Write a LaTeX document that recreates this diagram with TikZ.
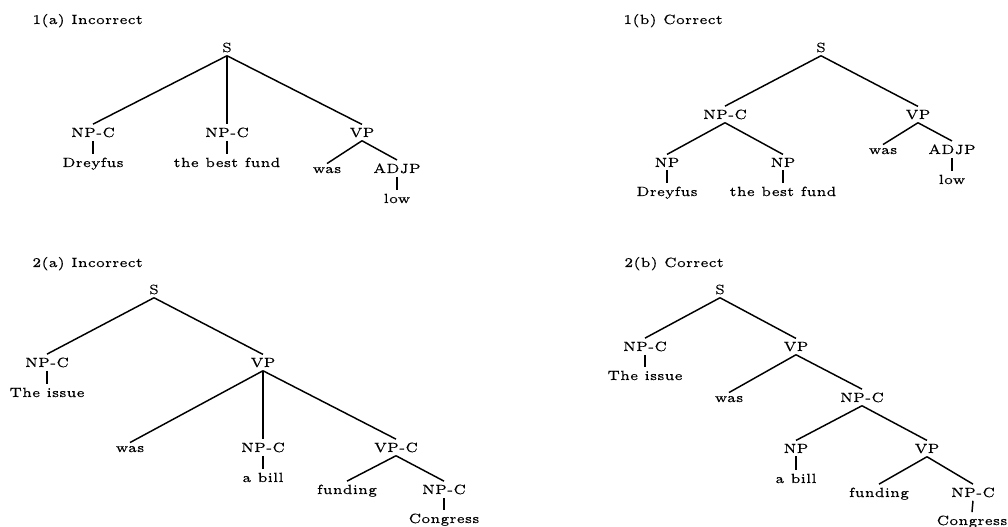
\documentclass[tikz,border=0pt]{standalone}
\usepackage{fontspec}
\newfontfamily\treefont{lmroman5-regular.otf}[FakeBold=0.4]
\begin{document}
\begin{tikzpicture}[x=0.75pt,y=-0.75pt,
  lbl/.style={font=\treefont\fontsize{10}{12}\selectfont, inner sep=2.4pt, anchor=base},
  ttl/.style={font=\treefont\fontsize{10}{12}\selectfont, inner sep=0pt, anchor=base west},
  br/.style={line width=1.1pt}]
\useasboundingbox (0,0) rectangle (1008,527);

% ---------- 1(a) ----------
\node[ttl] (t1a) at (32,24) {1(a) Incorrect};
\node[lbl] (a1S)   at (227,52)  {S};
\node[lbl] (a1N1)  at (93,137)  {NP-C};
\node[lbl] (a1N2)  at (227,137) {NP-C};
\node[lbl] (a1VP)  at (362,137) {VP};
\node[lbl] (a1w1)  at (93,167)  {Dreyfus};
\node[lbl] (a1w2)  at (227,167) {the best fund};
\node[lbl] (a1was) at (327,173) {was};
\node[lbl] (a1AJ)  at (397,173) {ADJP};
\node[lbl] (a1low) at (397,203) {low};
\draw[br] (a1S.south) -- (a1N1.north);
\draw[br] (a1S.south) -- (a1N2.north);
\draw[br] (a1S.south) -- (a1VP.north);
\draw[br] (a1N1.south) -- (a1w1.north);
\draw[br] (a1N2.south) -- (a1w2.north);
\draw[br] (a1VP.south) -- (a1was.north);
\draw[br] (a1VP.south) -- (a1AJ.north);
\draw[br] (a1AJ.south) -- (a1low.north);

% ---------- 1(b) ----------
\node[ttl] (t1b) at (623,24) {1(b) Correct};
\node[lbl] (b1S)   at (821,52)  {S};
\node[lbl] (b1NC)  at (725,119) {NP-C};
\node[lbl] (b1VP)  at (918,119) {VP};
\node[lbl] (b1N1)  at (667,167) {NP};
\node[lbl] (b1N2)  at (783,167) {NP};
\node[lbl] (b1w1)  at (667,196) {Dreyfus};
\node[lbl] (b1w2)  at (783,196) {the best fund};
\node[lbl] (b1was) at (883,154) {was};
\node[lbl] (b1AJ)  at (952,154) {ADJP};
\node[lbl] (b1low) at (952,184) {low};
\draw[br] (b1S.south) -- (b1NC.north);
\draw[br] (b1S.south) -- (b1VP.north);
\draw[br] (b1NC.south) -- (b1N1.north);
\draw[br] (b1NC.south) -- (b1N2.north);
\draw[br] (b1N1.south) -- (b1w1.north);
\draw[br] (b1N2.south) -- (b1w2.north);
\draw[br] (b1VP.south) -- (b1was.north);
\draw[br] (b1VP.south) -- (b1AJ.north);
\draw[br] (b1AJ.south) -- (b1low.north);

% ---------- 2(a) ----------
\node[ttl] (t2a) at (32,267) {2(a) Incorrect};
\node[lbl] (a2S)   at (154,294) {S};
\node[lbl] (a2NC)  at (47,367)  {NP-C};
\node[lbl] (a2VP)  at (263,367) {VP};
\node[lbl] (a2iss) at (47,397)  {The issue};
\node[lbl] (a2was) at (130,452) {was};
\node[lbl] (a2N2)  at (263,452) {NP-C};
\node[lbl] (a2VC)  at (396,452) {VP-C};
\node[lbl] (a2bil) at (263,482) {a bill};
\node[lbl] (a2fun) at (347,494) {funding};
\node[lbl] (a2N3)  at (444,494) {NP-C};
\node[lbl] (a2con) at (444,523) {Congress};
\draw[br] (a2S.south) -- (a2NC.north);
\draw[br] (a2S.south) -- (a2VP.north);
\draw[br] (a2NC.south) -- (a2iss.north);
\draw[br] (a2VP.south) -- (a2was.north);
\draw[br] (a2VP.south) -- (a2N2.north);
\draw[br] (a2VP.south) -- (a2VC.north);
\draw[br] (a2N2.south) -- (a2bil.north);
\draw[br] (a2VC.south) -- (a2fun.north);
\draw[br] (a2VC.south) -- (a2N3.north);
\draw[br] (a2N3.south) -- (a2con.north);

% ---------- 2(b) ----------
\node[ttl] (t2b) at (624,267) {2(b) Correct};
\node[lbl] (b2S)   at (720,294) {S};
\node[lbl] (b2NC)  at (645,351) {NP-C};
\node[lbl] (b2VP)  at (796,351) {VP};
\node[lbl] (b2iss) at (645,380) {The issue};
\node[lbl] (b2was) at (729,402) {was};
\node[lbl] (b2N2)  at (862,402) {NP-C};
\node[lbl] (b2NP)  at (796,453) {NP};
\node[lbl] (b2V2)  at (927,453) {VP};
\node[lbl] (b2bil) at (796,483) {a bill};
\node[lbl] (b2fun) at (879,497) {funding};
\node[lbl] (b2N3)  at (973,497) {NP-C};
\node[lbl] (b2con) at (972,525) {Congress};
\draw[br] (b2S.south) -- (b2NC.north);
\draw[br] (b2S.south) -- (b2VP.north);
\draw[br] (b2NC.south) -- (b2iss.north);
\draw[br] (b2VP.south) -- (b2was.north);
\draw[br] (b2VP.south) -- (b2N2.north);
\draw[br] (b2N2.south) -- (b2NP.north);
\draw[br] (b2N2.south) -- (b2V2.north);
\draw[br] (b2NP.south) -- (b2bil.north);
\draw[br] (b2V2.south) -- (b2fun.north);
\draw[br] (b2V2.south) -- (b2N3.north);
\draw[br] (b2N3.south) -- (b2con.north);
\end{tikzpicture}
\end{document}
